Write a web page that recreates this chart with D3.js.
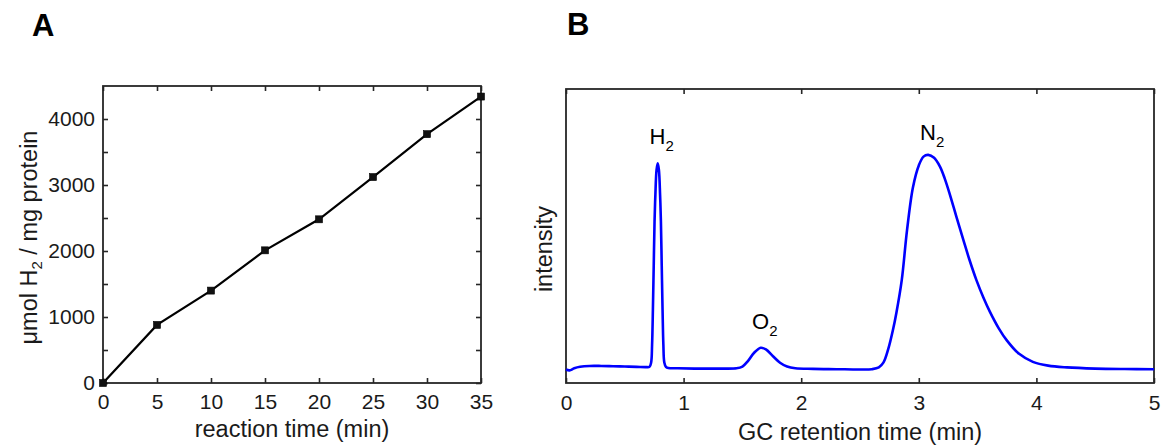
<!DOCTYPE html>
<html>
<head>
<meta charset="utf-8">
<script src="https://cdn.jsdelivr.net/npm/d3@7"></script>
<style>
  html, body { margin: 0; padding: 0; background: #fff; }
  svg { display: block; font-family: "Liberation Sans", Arial, Helvetica, sans-serif; }
</style>
</head>
<body>
<svg id="chart" width="1164" height="448"></svg>
<script>
// ---------- Panel A data ----------
const rateTime = [0, 5, 10, 15, 20, 25, 30, 35];            // min
const rateH2   = [0, 880, 1400, 2010, 2480, 3120, 3770, 4340]; // µmol H2 / mg protein
const aXTicks  = [0, 5, 10, 15, 20, 25, 30, 35];
const aYTicks  = [0, 500, 1000, 1500, 2000, 2500, 3000, 3500, 4000];
const aYLabels = [0, 1000, 2000, 3000, 4000];

// ---------- Panel B data (chromatogram) ----------
const gcTime = [0.00,0.03,0.07,0.12,0.20,0.30,0.40,0.50,0.60,0.68,0.71,0.724,0.732,0.739,0.746,0.753,0.76,0.77,0.78,0.79,0.80,0.807,0.814,0.821,0.828,0.836,0.85,0.87,0.95,1.10,1.30,1.45,1.50,1.55,1.60,1.656,1.70,1.76,1.82,1.88,1.95,2.10,2.30,2.50,2.60,2.66,2.70,2.74,2.78,2.81,2.855,2.90,2.95,3.00,3.04,3.08,3.13,3.18,3.22,3.265,3.32,3.38,3.43,3.49,3.55,3.605,3.68,3.75,3.85,3.97,4.10,4.26,4.50,4.75,5.00];
const gcIntensity = [4.6,4.3,5.0,5.5,5.8,5.8,5.7,5.6,5.5,5.4,5.5,7,13,25,40,55,64,72.5,74.7,72.5,64,55,40,25,13,7,5.5,5.1,5.0,4.9,4.9,5.0,5.6,7.6,10.3,12.0,11.4,9.1,6.9,5.6,5.0,4.8,4.7,4.6,4.7,5.3,7.0,11.5,18,24,35,52,66.5,74,77,77.6,76.6,73.6,69.6,64.0,56.5,48.5,42.0,35.0,29.0,24.2,18.6,14.4,10.0,7.2,5.9,5.3,4.9,4.75,4.7];
const bXTicks = [0, 1, 2, 3, 4, 5];
const peakNames = ["H", "O", "N"];
const peakTimes = [0.78, 1.656, 3.08];

const svg = d3.select("#chart");
const frameColor = "#262626";
const textColor = "#1a1a1a";
const tickFont = 21, labelFont = 23.5;

function styleAxis(g) {
  g.select(".domain").remove();
  g.selectAll(".tick line").attr("stroke", frameColor).attr("stroke-width", 1.6);
  g.selectAll(".tick text").attr("fill", textColor).style("font-size", tickFont + "px");
}

// ================= Panel A =================
const A = { left: 103, top: 86, width: 378, height: 297 };
const xA = d3.scaleLinear().domain([0, 35]).range([0, A.width]);
const yA = d3.scaleLinear().domain([0, 4500]).range([A.height, 0]);
const gA = svg.append("g").attr("transform", `translate(${A.left},${A.top})`);

gA.append("g").attr("transform", `translate(0,${A.height})`)
  .call(d3.axisBottom(xA).tickValues(aXTicks).tickSizeInner(-5).tickSizeOuter(0).tickPadding(11).tickFormat(d3.format("d")))
  .call(styleAxis);
gA.append("g")
  .call(d3.axisTop(xA).tickValues(aXTicks).tickSizeInner(-5).tickSizeOuter(0).tickFormat(""))
  .call(styleAxis);
gA.append("g")
  .call(d3.axisLeft(yA).tickValues(aYTicks).tickSizeInner(-5).tickSizeOuter(0).tickPadding(8)
    .tickFormat(d => aYLabels.includes(d) ? d : ""))
  .call(styleAxis);
gA.append("g").attr("transform", `translate(${A.width},0)`)
  .call(d3.axisRight(yA).tickValues(aYTicks).tickSizeInner(-5).tickSizeOuter(0).tickFormat(""))
  .call(styleAxis);

gA.append("rect").attr("width", A.width).attr("height", A.height)
  .attr("fill", "none").attr("stroke", frameColor).attr("stroke-width", 1.8);

const rateData = rateTime.map((t, i) => ({ t, v: rateH2[i] }));
gA.append("path").datum(rateData)
  .attr("fill", "none").attr("stroke", "#000").attr("stroke-width", 2.2)
  .attr("d", d3.line().x(d => xA(d.t)).y(d => yA(d.v)));
gA.selectAll("rect.mk").data(rateData).enter().append("rect").attr("class", "mk")
  .attr("x", d => xA(d.t) - 3.5).attr("y", d => yA(d.v) - 3.5)
  .attr("width", 7).attr("height", 7).attr("fill", "#111").attr("stroke", "#000").attr("stroke-width", 0.6);

// Axis titles A
svg.append("text").attr("x", A.left + A.width / 2).attr("y", 437)
  .attr("text-anchor", "middle").attr("fill", textColor).style("font-size", labelFont + "px")
  .text("reaction time (min)");
const yt = svg.append("text").attr("transform", `translate(37,${A.top + A.height / 2 + 3}) rotate(-90)`)
  .attr("text-anchor", "middle").attr("fill", textColor).style("font-size", labelFont + "px");
yt.append("tspan").text("\u03bcmol H");
yt.append("tspan").attr("dy", 5).style("font-size", "15px").text("2");
yt.append("tspan").attr("dy", -5).text(" / mg protein");

// Panel letter A
svg.append("text").attr("x", 32).attr("y", 36).attr("font-weight", "bold")
  .style("font-size", "31px").attr("fill", "#000").text("A");

// ================= Panel B =================
const B = { left: 566, top: 89, width: 588, height: 294 };
const xB = d3.scaleLinear().domain([0, 5]).range([0, B.width]);
const yB = d3.scaleLinear().domain([0, 100]).range([B.height, 0]);
const gB = svg.append("g").attr("transform", `translate(${B.left},${B.top})`);

gB.append("g").attr("transform", `translate(0,${B.height})`)
  .call(d3.axisBottom(xB).tickValues(bXTicks).tickSizeInner(-5).tickSizeOuter(0).tickPadding(12).tickFormat(d3.format("d")))
  .call(styleAxis);
gB.append("g")
  .call(d3.axisTop(xB).tickValues(bXTicks).tickSizeInner(-5).tickSizeOuter(0).tickFormat(""))
  .call(styleAxis);

gB.append("rect").attr("width", B.width).attr("height", B.height)
  .attr("fill", "none").attr("stroke", frameColor).attr("stroke-width", 1.8);

const gcData = gcTime.map((t, i) => ({ t, v: gcIntensity[i] }));
gB.append("path").datum(gcData)
  .attr("fill", "none").attr("stroke", "#0000ff").attr("stroke-width", 2.6)
  .attr("stroke-linejoin", "round")
  .attr("d", d3.line().x(d => xB(d.t)).y(d => yB(d.v)).curve(d3.curveCatmullRom.alpha(0.5)));

// Peak labels
peakTimes.forEach((pt, i) => {
  const idx = gcTime.indexOf(pt);
  const lab = gB.append("text")
    .attr("x", xB(pt) + 4).attr("y", yB(gcIntensity[idx]) - (i === 2 ? 15 : 19))
    .attr("text-anchor", "middle").attr("fill", "#000").style("font-size", "22px");
  lab.append("tspan").text(peakNames[i]);
  lab.append("tspan").attr("dy", 7).style("font-size", "15px").text("2");
});

// Axis titles B
svg.append("text").attr("x", B.left + B.width / 2).attr("y", 440)
  .attr("text-anchor", "middle").attr("fill", textColor).style("font-size", labelFont + "px")
  .text("GC retention time (min)");
svg.append("text").attr("transform", `translate(552,249) rotate(-90)`)
  .attr("text-anchor", "middle").attr("fill", textColor).style("font-size", labelFont + "px")
  .text("intensity");

// Panel letter B
svg.append("text").attr("x", 567).attr("y", 35).attr("font-weight", "bold")
  .style("font-size", "31px").attr("fill", "#000").text("B");
</script>
</body>
</html>
